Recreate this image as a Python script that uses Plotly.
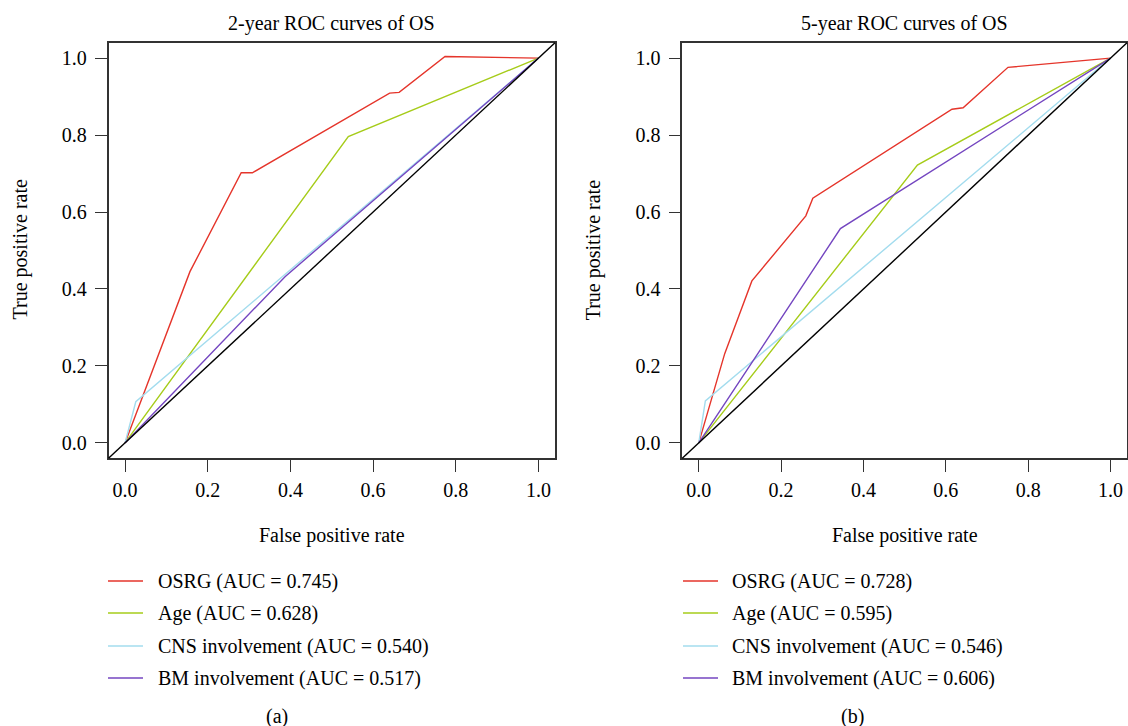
import plotly.graph_objects as go

# ---------------- data ----------------
names = ["OSRG", "Age", "CNS involvement", "BM involvement"]
colors = ["#E5352B", "#A6CC1A", "#A3DCEE", "#7446C0"]

# Panel (a): 2-year ROC
a_auc = ["0.745", "0.628", "0.540", "0.517"]
a_fpr = [
    [0.0, 0.157, 0.281, 0.308, 0.640, 0.663, 0.774, 1.0],
    [0.0, 0.540, 1.0],
    [0.0, 0.026, 1.0],
    [0.0, 0.387, 1.0],
]
a_tpr = [
    [0.0, 0.445, 0.702, 0.702, 0.909, 0.911, 1.004, 1.0],
    [0.0, 0.796, 1.0],
    [0.0, 0.107, 1.0],
    [0.0, 0.432, 1.0],
]

# Panel (b): 5-year ROC
b_auc = ["0.728", "0.595", "0.546", "0.606"]
b_fpr = [
    [0.0, 0.063, 0.129, 0.260, 0.277, 0.615, 0.642, 0.751, 1.0],
    [0.0, 0.531, 1.0],
    [0.0, 0.016, 1.0],
    [0.0, 0.344, 1.0],
]
b_tpr = [
    [0.0, 0.232, 0.421, 0.590, 0.636, 0.867, 0.871, 0.976, 1.0],
    [0.0, 0.722, 1.0],
    [0.0, 0.109, 1.0],
    [0.0, 0.557, 1.0],
]

titles = ["2-year ROC curves of OS", "5-year ROC curves of OS"]
panel_tags = ["(a)", "(b)"]
tick_vals = [0.0, 0.2, 0.4, 0.6, 0.8, 1.0]
tick_text = ["0.0", "0.2", "0.4", "0.6", "0.8", "1.0"]

# ---------------- layout helpers ----------------
W, H = 1128, 726
FONT = "Liberation Serif, Times New Roman, serif"
FS = 20


def px(x):
    return x / W


def py(y):
    return 1 - y / H


fig = go.Figure()

panels = [
    dict(fpr=a_fpr, tpr=a_tpr, auc=a_auc, xa="x", ya="y",
         dom=(108.5, 555.0), leg_x0=108, txt_x=156, tag_x=277),
    dict(fpr=b_fpr, tpr=b_tpr, auc=b_auc, xa="x2", ya="y2",
         dom=(682.3, 1127.0), leg_x0=683, txt_x=730, tag_x=852),
]
top_px, bot_px = 42.7, 458.3
leg_rows = [581, 613, 646, 678]

annotations = []
shapes = []

for k, p in enumerate(panels):
    for i, nm in enumerate(names):
        fig.add_trace(go.Scatter(
            x=p["fpr"][i], y=p["tpr"][i], mode="lines",
            line=dict(color=colors[i], width=1.4),
            xaxis=p["xa"], yaxis=p["ya"], showlegend=False,
            name=f"{nm} (AUC = {p['auc'][i]})",
        ))
    # diagonal reference line (corner to corner of plot box)
    shapes.append(dict(type="line", xref=f"{p['xa']} domain", yref=f"{p['ya']} domain",
                       x0=0, y0=0, x1=1, y1=1, line=dict(color="black", width=1.4)))
    cx = (p["dom"][0] + p["dom"][1]) / 2
    # title
    annotations.append(dict(text=titles[k], x=px(cx), y=py(23), xref="paper", yref="paper",
                            showarrow=False, xanchor="center", yanchor="middle",
                            font=dict(family=FONT, size=FS, color="black")))
    # x axis title
    annotations.append(dict(text="False positive rate", x=px(cx), y=py(535), xref="paper",
                            yref="paper", showarrow=False, xanchor="center", yanchor="middle",
                            font=dict(family=FONT, size=FS, color="black")))
    # y axis title
    annotations.append(dict(text="True positive rate", x=px(p["dom"][0] - 89), y=py(250),
                            xref="paper", yref="paper", showarrow=False, textangle=-90,
                            xanchor="center", yanchor="middle",
                            font=dict(family=FONT, size=FS, color="black")))
    # legend
    for i, nm in enumerate(names):
        yy = leg_rows[i]
        shapes.append(dict(type="line", xref="paper", yref="paper",
                           x0=px(p["leg_x0"]), x1=px(p["leg_x0"] + 35), y0=py(yy), y1=py(yy),
                           line=dict(color=colors[i], width=1.3)))
        annotations.append(dict(text=f"{nm} (AUC = {p['auc'][i]})", x=px(p["txt_x"]), y=py(yy),
                                xref="paper", yref="paper", showarrow=False,
                                xanchor="left", yanchor="middle",
                                font=dict(family=FONT, size=FS, color="black")))
    # panel tag
    annotations.append(dict(text=panel_tags[k], x=px(p["tag_x"]), y=py(716), xref="paper",
                            yref="paper", showarrow=False, xanchor="center", yanchor="middle",
                            font=dict(family=FONT, size=FS, color="black")))

axis_common = dict(
    range=[-0.04, 1.04], tickvals=tick_vals, ticktext=tick_text,
    showline=True, mirror=True, linecolor="#333333", linewidth=1.5,
    ticks="outside", ticklen=12, tickwidth=1.3, tickcolor="#333333",
    showgrid=False, zeroline=False, fixedrange=True,
    tickfont=dict(family=FONT, size=FS, color="black"),
)

fig.update_layout(
    width=W, height=H,
    margin=dict(l=0, r=0, t=0, b=0),
    paper_bgcolor="white", plot_bgcolor="white",
    showlegend=False,
    xaxis=dict(domain=[px(108.5), px(555.0)], anchor="y", ticklabelstandoff=1, **axis_common),
    yaxis=dict(domain=[py(bot_px), py(top_px)], anchor="x", ticklabelstandoff=4, **axis_common),
    xaxis2=dict(domain=[px(682.3), px(1127.0)], anchor="y2", ticklabelstandoff=1, **axis_common),
    yaxis2=dict(domain=[py(bot_px), py(top_px)], anchor="x2", ticklabelstandoff=4, **axis_common),
    annotations=annotations,
    shapes=shapes,
)

fig.write_html(
    "out.html",
    config={"displayModeBar": False},
    post_script="document.body.style.margin='0';document.body.style.padding='0';"
                "document.body.style.overflow='hidden';",
)
